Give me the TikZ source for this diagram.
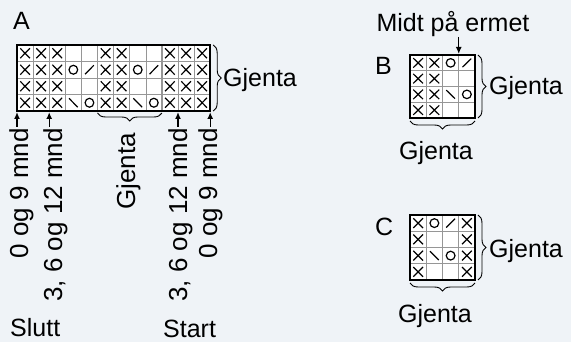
\documentclass[tikz,border=0pt]{standalone}
\usepackage{fontspec}
\setmainfont{Liberation Sans}
\usetikzlibrary{calc, positioning, arrows.meta, decorations.pathreplacing}
\definecolor{bakgrunn}{RGB}{239,243,247}
\definecolor{rutenett}{RGB}{150,150,150}

\begin{document}
\begin{tikzpicture}[x=1pt, y=-1pt,
  every node/.style={inner sep=0pt, font=\fontsize{25}{30}\selectfont},
  loddrett/.style={rotate=90, anchor=base east, font=\fontsize{26}{30}\selectfont},
  rute/.style={draw=rutenett, line width=.6pt},
  skille/.style={draw=rutenett, line width=1.6pt},
  ramme/.style={draw=black, line width=1.8pt},
  tegn/.style={draw=black, line width=1.2pt},
  klamme/.style={decorate, decoration={brace, amplitude=8pt}, line width=.9pt},
  pil/.style={-{Latex[length=7pt,width=6pt]}, line width=1.4pt, shorten >=1pt},
  kx/.pic={\draw[tegn] (-.3,-.3) -- (.3,.3) (-.3,.3) -- (.3,-.3);},
  ko/.pic={\draw[tegn] (0,0) circle [radius=.27];},
  kh/.pic={\draw[tegn] (-.27,.27) -- (.27,-.27);},
  kv/.pic={\draw[tegn] (-.27,-.27) -- (.27,.27);}]
  \fill[bakgrunn] (0,0) rectangle (571,342);
  \useasboundingbox (0,0) rectangle (571,342);

  % diagram A
  \node[anchor=base west] (lA) at (13,30) {A};
  \begin{scope}[shift={(17,45)}, x=16.1pt, y=-16.5pt]
    \fill[white] (0,0) rectangle (12,4);
    \foreach \c in {1,...,11} \draw[rute] (\c,0) -- (\c,4);
    \foreach \r in {1,2,3} \draw[rute] (0,\r) -- (12,\r);
    \draw[skille] (5,0) -- (5,4) (9,0) -- (9,4);
    \foreach \c in {1,2,3,6,7,10,11,12}
      \foreach \r in {1,...,4} \pic at (\c-.5,\r-.5) {kx};
    \foreach \c in {4,8} {
      \pic at (\c-.5,1.5) {ko}; \pic at (\c+.5,1.5) {kh};
      \pic at (\c-.5,3.5) {kv}; \pic at (\c+.5,3.5) {ko};
    }
    \draw[ramme] (0,0) rectangle (12,4);
    \coordinate (A-ne) at (12,0);
    \coordinate (A-se) at (12,4);
    \coordinate (A-r1) at (5,4);
    \coordinate (A-r2) at (9,4);
    \coordinate (A-p1) at (0,4);
    \coordinate (A-p2) at (2,4);
    \coordinate (A-p3) at (10,4);
    \coordinate (A-p4) at (12,4);
  \end{scope}
  \draw[klamme] ($(A-ne)+(3,0)$) -- ($(A-se)+(3,0)$);
  \node[anchor=west] (A-gh) at (223,80) {Gjenta};
  \draw[klamme] ($(A-r2)+(0,2)$) -- ($(A-r1)+(0,2)$);
  \node[loddrett] (A-gn) at (135,133) {Gjenta};

  \node[loddrett] (A-t1) at (28,128) {0 og 9 mnd};
  \node[loddrett] (A-t2) at (62,128) {3, 6 og 12 mnd};
  \node[loddrett] (A-t3) at (187,128) {3, 6 og 12 mnd};
  \node[loddrett] (A-t4) at (217,128) {0 og 9 mnd};
  \coordinate (A-q1) at ($(A-p1)+(0,16)$);
  \coordinate (A-q2) at ($(A-p2)+(0,16)$);
  \coordinate (A-q3) at ($(A-p3)+(0,16)$);
  \coordinate (A-q4) at ($(A-p4)+(0,16)$);
  \draw[pil] (A-q1) -- (A-p1);
  \draw[pil] (A-q2) -- (A-p2);
  \draw[pil] (A-q3) -- (A-p3);
  \draw[pil] (A-q4) -- (A-p4);
  \node[anchor=base west] (slutt) at (10,336) {Slutt};
  \node[anchor=base west] (start) at (163,337) {Start};

  % diagram B
  \node[anchor=base] (midt) at (453,32) {Midt på ermet};
  \node[anchor=base west] (lB) at (375,75) {B};
  \begin{scope}[shift={(410,55)}, x=16.25pt, y=-15.75pt]
    \fill[white] (0,0) rectangle (4,4);
    \foreach \c in {1,2,3} \draw[rute] (\c,0) -- (\c,4);
    \foreach \r in {1,2,3} \draw[rute] (0,\r) -- (4,\r);
    \foreach \r in {1,...,4} { \pic at (.5,\r-.5) {kx}; \pic at (1.5,\r-.5) {kx}; }
    \pic at (2.5,.5) {ko}; \pic at (3.5,.5) {kh};
    \pic at (2.5,2.5) {kv}; \pic at (3.5,2.5) {ko};
    \draw[ramme] (0,0) rectangle (4,4);
    \coordinate (B-ne) at (4,0);
    \coordinate (B-se) at (4,4);
    \coordinate (B-sw) at (0,4);
    \coordinate (B-m) at (3,0);
  \end{scope}
  \coordinate (B-mq) at ($(B-m)+(0,-18)$);
  \draw[pil] (B-mq) -- (B-m);
  \draw[klamme] ($(B-ne)+(3,0)$) -- ($(B-se)+(3,0)$);
  \node[anchor=west] (B-gh) at (489,88) {Gjenta};
  \draw[klamme] ($(B-se)+(0,3)$) -- ($(B-sw)+(0,3)$);
  \node[anchor=base] (B-gn) at (436,160) {Gjenta};

  % diagram C
  \node[anchor=base west] (lC) at (375,236) {C};
  \begin{scope}[shift={(410,215)}, x=16.25pt, y=-16.25pt]
    \fill[white] (0,0) rectangle (4,4);
    \foreach \c in {1,2,3} \draw[rute] (\c,0) -- (\c,4);
    \foreach \r in {1,2,3} \draw[rute] (0,\r) -- (4,\r);
    \foreach \r in {1,...,4} { \pic at (.5,\r-.5) {kx}; \pic at (3.5,\r-.5) {kx}; }
    \pic at (1.5,.5) {ko}; \pic at (2.5,.5) {kh};
    \pic at (1.5,2.5) {kv}; \pic at (2.5,2.5) {ko};
    \draw[ramme] (0,0) rectangle (4,4);
    \coordinate (C-ne) at (4,0);
    \coordinate (C-se) at (4,4);
    \coordinate (C-sw) at (0,4);
  \end{scope}
  \draw[klamme] ($(C-ne)+(3,0)$) -- ($(C-se)+(3,0)$);
  \node[anchor=west] (C-gh) at (489,251) {Gjenta};
  \draw[klamme] ($(C-se)+(0,3)$) -- ($(C-sw)+(0,3)$);
  \node[anchor=base] (C-gn) at (435,323) {Gjenta};
\end{tikzpicture}
\end{document}
